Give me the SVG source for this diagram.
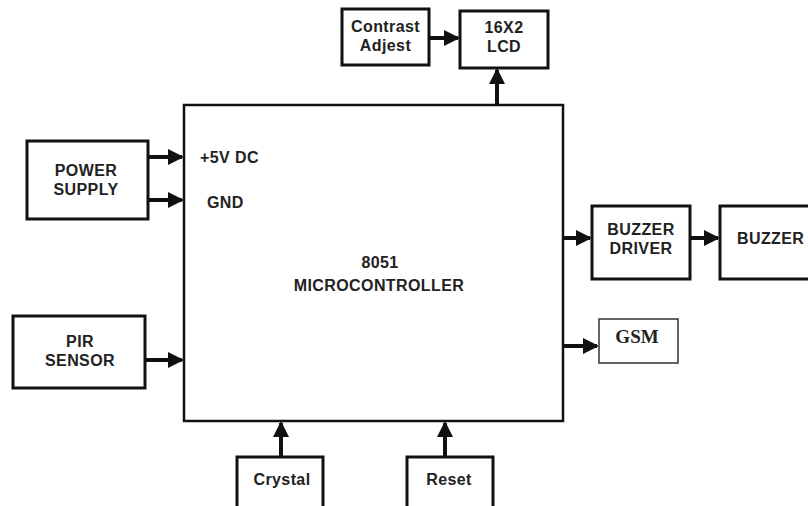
<svg xmlns="http://www.w3.org/2000/svg" width="808" height="506" viewBox="0 0 808 506">
<style>
.box{fill:#fff;stroke:#111;stroke-width:3}
.thin{fill:#fff;stroke:#333;stroke-width:1.5}
.t{font-family:"Liberation Sans",Arial,sans-serif;font-weight:bold;font-size:16px;letter-spacing:0.4px;fill:#222;text-anchor:middle}
.s{font-family:"Liberation Serif","Times New Roman",serif;font-weight:bold;font-size:19px;fill:#222;text-anchor:middle}
.c{stroke:#111;stroke-width:4;fill:none;marker-end:url(#ah)}
</style>
<defs>
<marker id="ah" markerWidth="4" markerHeight="4" refX="3.5" refY="2" orient="auto" markerUnits="strokeWidth">
<path d="M0,0 L4,2 L0,4 Z" fill="#111"/>
</marker>
</defs>
<rect width="808" height="506" fill="#fff"/>
<g id="connectors">
<line class="c" x1="429" y1="38" x2="458" y2="38"/>
<line class="c" x1="497" y1="104" x2="497" y2="70"/>
<line class="c" x1="148" y1="157" x2="182" y2="157"/>
<line class="c" x1="148" y1="200" x2="182" y2="200"/>
<line class="c" x1="145" y1="360" x2="182" y2="360"/>
<line class="c" x1="563" y1="238" x2="590" y2="238"/>
<line class="c" x1="690" y1="238" x2="718" y2="238"/>
<line class="c" x1="563" y1="346" x2="597" y2="346"/>
<line class="c" x1="281" y1="457" x2="281" y2="423"/>
<line class="c" x1="445" y1="457" x2="445" y2="423"/>
</g>
<g id="mcu">
<rect class="box" x="184" y="105" width="379" height="316" style="stroke-width:2.5"/>
<text class="t" x="200" y="163" style="text-anchor:start">+5V DC</text>
<text class="t" x="207" y="208" style="text-anchor:start">GND</text>
<text class="t" x="380" y="268">8051</text>
<text class="t" x="379" y="291">MICROCONTROLLER</text>
</g>
<g id="contrast">
<rect class="box" x="342" y="9" width="87" height="56"/>
<text class="t" x="385.5" y="32">Contrast</text>
<text class="t" x="385.5" y="51">Adjest</text>
</g>
<g id="lcd">
<rect class="box" x="460" y="11" width="88" height="57"/>
<text class="t" x="504" y="33">16X2</text>
<text class="t" x="504" y="52">LCD</text>
</g>
<g id="power">
<rect class="box" x="27" y="141" width="121" height="78"/>
<text class="t" x="86" y="176">POWER</text>
<text class="t" x="86" y="195">SUPPLY</text>
</g>
<g id="pir">
<rect class="box" x="13" y="316" width="132" height="72"/>
<text class="t" x="80" y="347">PIR</text>
<text class="t" x="80" y="366">SENSOR</text>
</g>
<g id="buzzer-driver">
<rect class="box" x="592" y="206" width="98" height="73"/>
<text class="t" x="641" y="235">BUZZER</text>
<text class="t" x="641" y="254">DRIVER</text>
</g>
<g id="buzzer">
<rect class="box" x="720" y="206" width="100" height="73"/>
<text class="t" x="737" y="244" style="text-anchor:start">BUZZER</text>
</g>
<g id="gsm">
<rect class="thin" x="599" y="319" width="79" height="44"/>
<text class="s" x="637" y="343">GSM</text>
</g>
<g id="crystal">
<rect class="box" x="237" y="457" width="86" height="60"/>
<text class="t" x="282" y="485">Crystal</text>
</g>
<g id="reset">
<rect class="box" x="407" y="457" width="86" height="60"/>
<text class="t" x="449" y="485">Reset</text>
</g>
</svg>
